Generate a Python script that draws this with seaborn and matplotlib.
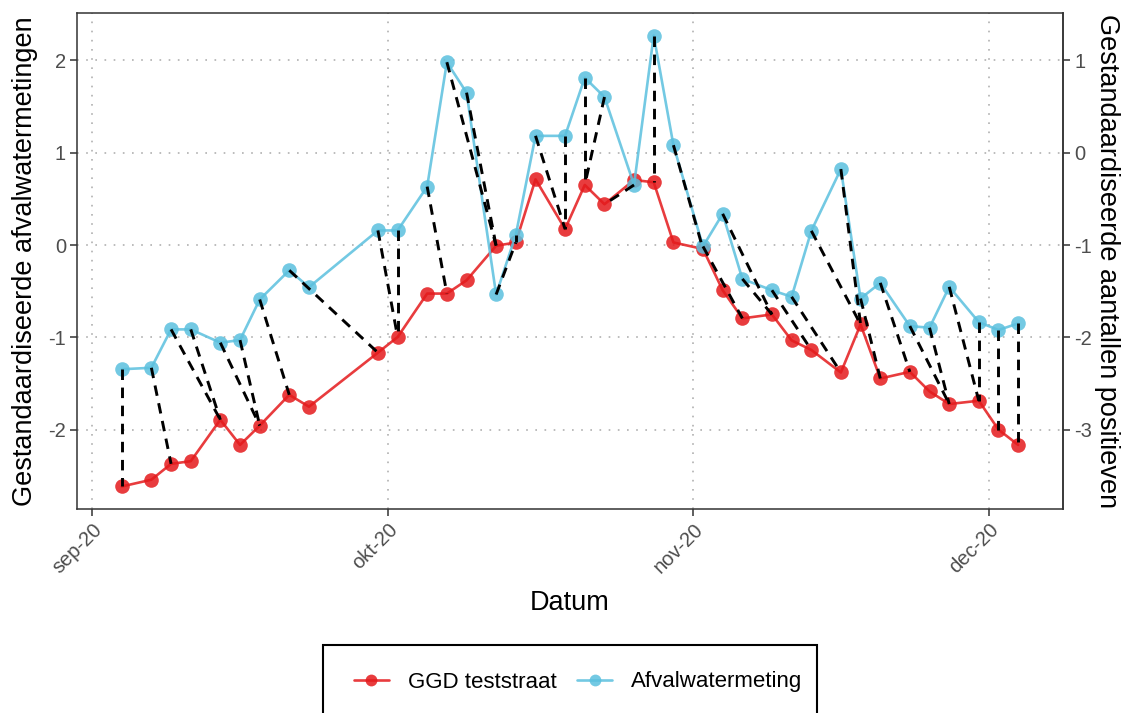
import matplotlib
matplotlib.use("Agg")
import matplotlib.pyplot as plt
import seaborn as sns
import pandas as pd
from matplotlib.patches import Rectangle
from matplotlib.lines import Line2D

# Measurement dates (Mon/Wed/Fri sampling)
datums = [
    "2020-09-04", "2020-09-07", "2020-09-09", "2020-09-11", "2020-09-14",
    "2020-09-16", "2020-09-18", "2020-09-21", "2020-09-23", "2020-09-30",
    "2020-10-02", "2020-10-05", "2020-10-07", "2020-10-09", "2020-10-12",
    "2020-10-14", "2020-10-16", "2020-10-19", "2020-10-21", "2020-10-23",
    "2020-10-26", "2020-10-28", "2020-10-30", "2020-11-02", "2020-11-04",
    "2020-11-06", "2020-11-09", "2020-11-11", "2020-11-13", "2020-11-16",
    "2020-11-18", "2020-11-20", "2020-11-23", "2020-11-25", "2020-11-27",
    "2020-11-30", "2020-12-02", "2020-12-04",
]

# Standardised GGD test-street positives (in left-axis units)
ggd = [
    -2.616, -2.543, -2.371, -2.342, -1.893, -2.166, -1.957, -1.623, -1.752, -1.166,
    -0.997, -0.526, -0.526, -0.382, -0.008, 0.028, 0.712, 0.173, 0.651, 0.442,
    0.705, 0.680, 0.028, -0.043, -0.490, -0.795, -0.752, -1.033, -1.137, -1.381,
    -0.860, -1.446, -1.374, -1.586, -1.723, -1.687, -2.000, -2.166,
]

# Standardised wastewater measurements
afvalwater = [
    -1.346, -1.330, -0.914, -0.914, -1.058, -1.030, -0.590, -0.274, -0.457, 0.158,
    0.158, 0.633, 1.981, 1.651, -0.536, 0.111, 1.183, 1.183, 1.813, 1.604,
    0.651, 2.270, 1.082, -0.015, 0.338, -0.367, -0.490, -0.561, 0.154, 0.823,
    -0.580, -0.410, -0.878, -0.896, -0.453, -0.835, -0.921, -0.849,
]

# Alignment pairs: (index in wastewater series, index in GGD series)
koppelingen = [
    (0, 0), (1, 2), (2, 4), (3, 4), (4, 6), (5, 6), (6, 7), (7, 9),
    (9, 10), (10, 10), (11, 12), (12, 14), (13, 14), (14, 15), (15, 15),
    (16, 17), (17, 17), (18, 18), (19, 18), (20, 19), (21, 21), (22, 23),
    (23, 25), (24, 26), (25, 26), (26, 28), (27, 29), (28, 30), (29, 30),
    (30, 31), (31, 32), (32, 34), (33, 34), (34, 35), (35, 35), (36, 36),
    (37, 37),
]

maand_ticks = ["2020-09-01", "2020-10-01", "2020-11-01", "2020-12-01"]
maand_labels = ["sep-20", "okt-20", "nov-20", "dec-20"]
rechts_ticks = [1, 0, -1, -2, -3]

reeksen = ["GGD teststraat", "Afvalwatermeting"]
ROOD = "#E41A1C"
BLAUW = "#5BC0DE"
palet = {"GGD teststraat": ROOD, "Afvalwatermeting": BLAUW}

sns.set_theme(style="white")
plt.rcParams["font.family"] = ["Liberation Sans", "DejaVu Sans"]

n = len(datums)
df = pd.DataFrame({
    "Datum": pd.to_datetime(datums * 2),
    "waarde": ggd + afvalwater,
    "reeks": [reeksen[0]] * n + [reeksen[1]] * n,
})

fig = plt.figure(figsize=(11.29, 7.13), dpi=100)
ax = fig.add_axes([77 / 1129, 1 - 509 / 713, (1063 - 77) / 1129, (509 - 13) / 713])

sns.lineplot(
    data=df, x="Datum", y="waarde", hue="reeks", hue_order=reeksen,
    palette=palet, marker="o", markersize=10.5, markeredgewidth=0,
    linewidth=1.9, alpha=0.85, estimator=None, sort=False,
    legend=False, ax=ax, zorder=3,
)

# dashed connectors between aligned points
d = pd.to_datetime(datums)
for i, j in koppelingen:
    ax.plot([d[i], d[j]], [afvalwater[i], ggd[j]], color="black",
            linestyle=(0, (3.6, 2.6)), linewidth=2.1, zorder=4)

# axis ranges with 5% padding
span = d.max() - d.min()
ax.set_xlim(d.min() - span * 0.05, d.max() + span * 0.05)
alle = ggd + afvalwater
yr = max(alle) - min(alle)
ax.set_ylim(min(alle) - 0.05 * yr, max(alle) + 0.05 * yr)

ax.set_xticks(pd.to_datetime(maand_ticks))
ax.set_xticklabels(maand_labels, rotation=45, ha="right", rotation_mode="anchor")
ax.set_yticks([-2, -1, 0, 1, 2])
ax.set_yticklabels(["-2", "-1", "0", "1", "2"])

ax.grid(True, color="#B0B0B0", linestyle=(0, (1, 4.5)), linewidth=1.2)
ax.set_axisbelow(True)
for s in ax.spines.values():
    s.set_color("#333333")
    s.set_linewidth(1.1)

ax.tick_params(axis="both", direction="out", length=5, width=1.1,
               color="#333333", labelcolor="#4D4D4D", labelsize=14.5, pad=3,
               left=True, bottom=True)

ax.set_xlabel("Datum", fontsize=19.5, color="black", va="center")
ax.xaxis.set_label_coords(0.5, (509 - 603) / 496)
ax.set_ylabel("Gestandaardiseerde afvalwatermetingen", fontsize=19.5,
              color="black", va="center")
ax.yaxis.set_label_coords((25 - 77) / 986, 0.5)

sec = ax.secondary_yaxis("right", functions=(lambda y: y - 1, lambda y: y + 1))
sec.set_yticks(rechts_ticks)
sec.set_yticklabels([str(t) for t in rechts_ticks])
sec.tick_params(axis="y", direction="out", length=5, width=1.1,
                color="#333333", labelcolor="#4D4D4D", labelsize=14.5, pad=3)
sec.spines["right"].set_color("#333333")
sec.spines["right"].set_linewidth(1.1)
sec.set_ylabel("Gestandaardiseerde aantallen positieven", fontsize=19.5,
               color="black", rotation=270, va="center")
sec.yaxis.set_label_coords((1107 - 77) / 986, 0.5, transform=ax.transAxes)

# legend at the bottom, framed box running off the figure edge
fig.patches.append(Rectangle((323 / 1129, -0.02), (817 - 323) / 1129,
                             (1 - 645 / 713) + 0.02, transform=fig.transFigure,
                             facecolor="white", edgecolor="black", linewidth=1.5))
handles = [
    Line2D([], [], color=palet[r], marker="o", markersize=8.5, markeredgewidth=0,
           linewidth=1.9, alpha=0.85)
    for r in reeksen
]
fig.legend(handles, reeksen, loc="center", ncol=2, frameon=False,
           bbox_to_anchor=(578 / 1129, 1 - 682 / 713), fontsize=16,
           labelcolor="black", handlelength=1.6, handletextpad=0.85,
           columnspacing=0.9)

fig.savefig("out.png", dpi=100)
